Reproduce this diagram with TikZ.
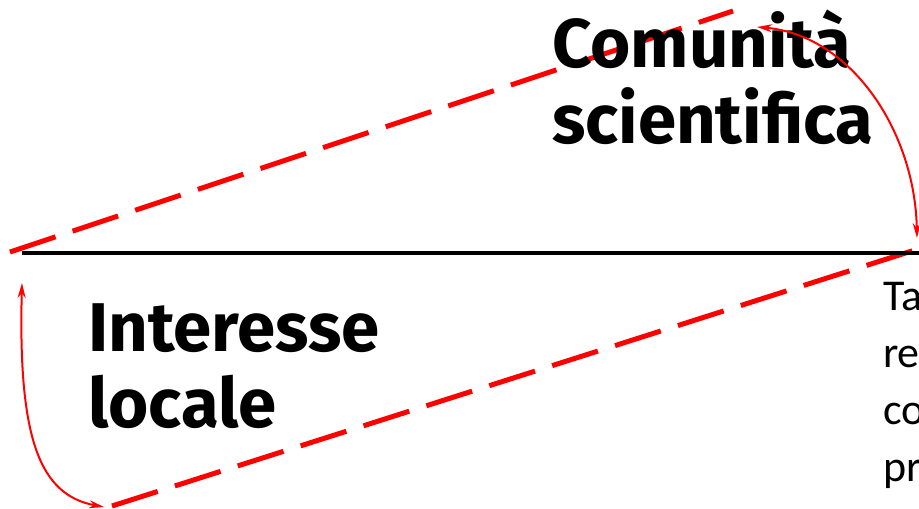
\documentclass[tikz,border=0pt]{standalone}
\usepackage{fontspec}
\setmainfont{Carlito}
\newfontfamily\titlefont{Fira Sans}
\usetikzlibrary{arrows.meta}
\definecolor{cred}{HTML}{FF0000}

\begin{document}
\begin{tikzpicture}[x=1pt,y=-1pt,
    dashline/.style={cred,line width=5pt,dash pattern=on 48pt off 18pt},
    swing/.style={cred,line width=2pt,
      {Stealth[length=15pt,width=8pt]}-{Stealth[length=15pt,width=8pt]}},
    bigtext/.style={font=\titlefont\bfseries\fontsize{69}{76}\selectfont,
      align=left,inner sep=0pt,anchor=base west}]
  \useasboundingbox (0,0) rectangle (919,509);
  % end points
  \coordinate (axisL) at (22,252.5);
  \coordinate (axisR) at (919,252.5);
  \coordinate (upL) at (10,252);
  \coordinate (upR) at (733,11);
  \coordinate (lowL) at (112,506);
  \coordinate (lowR) at (918,249);
  \coordinate (arcA) at (757,27);
  \coordinate (arcB) at (917,238);
  \coordinate (arcC) at (22,283);
  \coordinate (arcD) at (104,507);
  % dashed frame
  \draw[dashline] (upL) -- (upR);
  \draw[dashline] (lowL) -- (lowR);
  % axis
  \draw[line width=4pt] (axisL) -- (axisR);
  % labels (base = last line)
  \node[bigtext] (comunita) at (552,143) {Comunità\\scientifica};
  \node[bigtext] (locale) at (88,427) {Interesse\\locale};
  \node[font=\fontsize{44}{57}\selectfont,align=left,inner sep=0pt,
    anchor=base west] (side) at (883,481) {Ta\\re\\co\\pr};
  % arcs
  \draw[swing] (arcA) .. controls (850,35) and (915,130) .. (arcB);
  \draw[swing] (arcC) .. controls (18,440) and (40,495) .. (arcD);
\end{tikzpicture}
\end{document}
